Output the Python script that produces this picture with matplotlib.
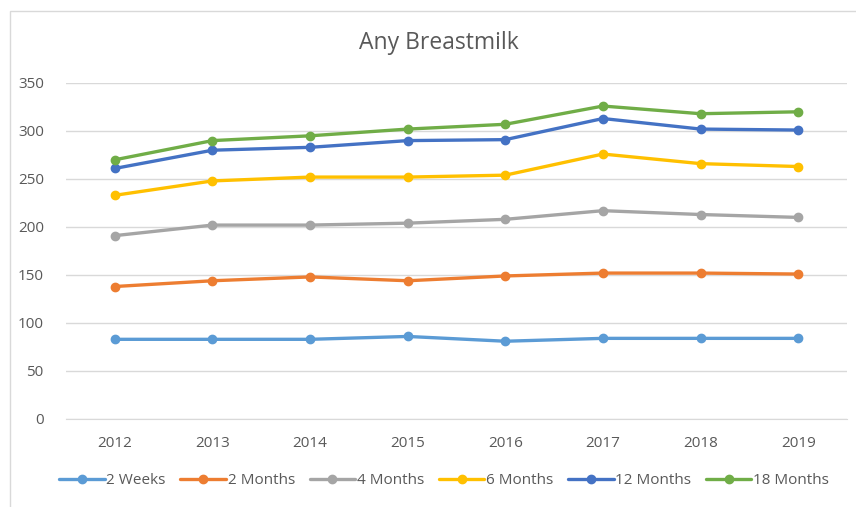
import matplotlib

matplotlib.use("Agg")
import matplotlib.pyplot as plt
from matplotlib.patches import Rectangle

plt.rcParams["font.family"] = ["Open Sans", "DejaVu Sans"]

years = ["2012", "2013", "2014", "2015", "2016", "2017", "2018", "2019"]
series_names = ["2 Weeks", "2 Months", "4 Months", "6 Months", "12 Months", "18 Months"]
weeks_2 = [83, 83, 83, 86, 81, 84, 84, 84]
months_2 = [138, 144, 148, 144, 149, 152, 152, 151]
months_4 = [191, 202, 202, 204, 208, 217, 213, 210]
months_6 = [233, 248, 252, 252, 254, 276, 266, 263]
months_12 = [261, 280, 283, 290, 291, 313, 302, 301]
months_18 = [270, 290, 295, 302, 307, 326, 318, 320]
colors = ["#5B9BD5", "#ED7D31", "#A5A5A5", "#FFC000", "#4472C4", "#70AD47"]
yticks = [0, 50, 100, 150, 200, 250, 300, 350]

W, H = 856, 507
fig = plt.figure(figsize=(W / 100, H / 100), dpi=100)
# chart border (cropped on right and bottom)
fig.patches.append(Rectangle((9.5 / W, -0.1), 1.2, 1 - 10.5 / H + 0.1,
                             transform=fig.transFigure, fill=False,
                             edgecolor="#D9D9D9", lw=1))

ax = fig.add_axes([66 / W, 1 - 419 / H, (847 - 66) / W, (419 - 83) / H])
x = list(range(len(years)))
all_series = [weeks_2, months_2, months_4, months_6, months_12, months_18]
for vals, name, c in zip(all_series, series_names, colors):
    ax.plot(x, vals, color=c, lw=2.4, marker="o", ms=6, label=name,
            solid_capstyle="round")

ax.set_xlim(-0.5, len(years) - 0.5)
ax.set_ylim(0, 350)
ax.set_yticks(yticks)
ax.set_xticks(x)
ax.set_xticklabels(years)
ax.grid(axis="y", color="#D9D9D9", lw=1)
ax.set_axisbelow(True)
for s in ["top", "right", "left"]:
    ax.spines[s].set_visible(False)
ax.spines["bottom"].set_color("#D9D9D9")
ax.tick_params(length=0, labelsize=11, colors="#595959", pad=12)
ax.tick_params(axis="y", pad=16)

fig.text(439 / W, 1 - 43 / H, "Any Breastmilk", ha="center", va="center",
         fontsize=16.5, color="#595959")

ax.legend(loc="center", bbox_to_anchor=(444 / W, 1 - 481 / H),
          bbox_transform=fig.transFigure, ncol=6, frameon=False,
          fontsize=11, handlelength=3.0, handletextpad=0.1, columnspacing=0.95,
          labelcolor="#595959")

fig.savefig("out.png", dpi=100)
